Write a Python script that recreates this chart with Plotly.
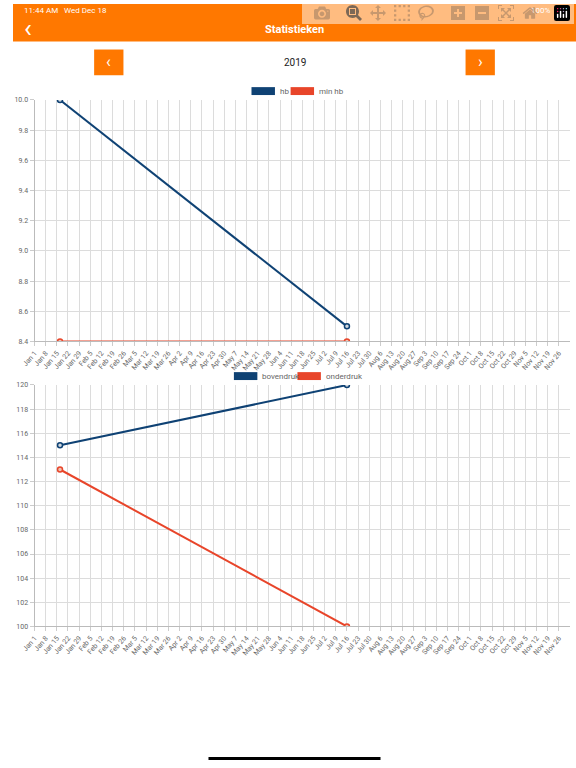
import pandas as pd
import plotly.graph_objects as go

# data
hb_dates = ["2019-01-17", "2019-07-16"]
hb_values = [10.0, 8.5]
min_hb_values = [8.4, 8.4]
bp_dates = ["2019-01-17", "2019-07-16"]
bovendruk = [115, 120]
onderdruk = [113, 100]

ticks = pd.date_range("2019-01-01", "2019-11-26", freq="7D")
tick_text = [d.strftime("%b ") + str(d.day) for d in ticks]

BLUE = "#0f4274"
RED = "#e8452a"
ORANGE = "#ff7800"
W, H = 576, 768


def py(px):
    return 1 - px / H


fig = go.Figure()
fig.add_trace(go.Scatter(x=hb_dates, y=hb_values, mode="lines+markers", line=dict(color=BLUE, width=2),
                         marker=dict(size=5, color="#d0d8e0", line=dict(color=BLUE, width=1.5)),
                         xaxis="x", yaxis="y"))
fig.add_trace(go.Scatter(x=hb_dates, y=min_hb_values, mode="lines+markers", line=dict(color=RED, width=2),
                         marker=dict(size=5, color="#f0c0b0", line=dict(color=RED, width=1.5)),
                         xaxis="x", yaxis="y"))
fig.add_trace(go.Scatter(x=bp_dates, y=bovendruk, mode="lines+markers", line=dict(color=BLUE, width=2),
                         marker=dict(size=5, color="#d0d8e0", line=dict(color=BLUE, width=1.5)),
                         xaxis="x2", yaxis="y2"))
fig.add_trace(go.Scatter(x=bp_dates, y=onderdruk, mode="lines+markers", line=dict(color=RED, width=2),
                         marker=dict(size=5, color="#f0c0b0", line=dict(color=RED, width=1.5)),
                         xaxis="x2", yaxis="y2"))

xcommon = dict(type="date", range=["2019-01-01", "2019-12-03"], tickvals=ticks, ticktext=tick_text,
               tickangle=-50, tickfont=dict(size=7, color="#666"), showgrid=True, gridcolor="#dcdcdc",
               gridwidth=1, showline=True, linecolor="#bbb", ticks="outside", ticklen=4, tickcolor="#ccc")
ycommon = dict(showgrid=True, gridcolor="#dcdcdc", tickfont=dict(size=7, color="#666"), showline=True,
               linecolor="#bbb", ticks="outside", ticklen=4, tickcolor="#ccc", zeroline=False)

fig.update_layout(
    width=W, height=H, margin=dict(l=0, r=0, t=0, b=0), showlegend=False,
    plot_bgcolor="white", paper_bgcolor="white", font=dict(family="Roboto"),
    xaxis=dict(domain=[22 / W, 570 / W], anchor="y", **xcommon),
    yaxis=dict(domain=[py(341), py(97)], range=[8.4, 10.0], dtick=0.2, tickformat=".1f", anchor="x", **ycommon),
    xaxis2=dict(domain=[22 / W, 570 / W], anchor="y2", **xcommon),
    yaxis2=dict(domain=[py(629), py(385)], range=[100, 120], dtick=2, anchor="x2", **ycommon),
)

shapes = [
    dict(type="rect", xref="paper", yref="paper", x0=0, x1=1, y0=py(38), y1=1, fillcolor=ORANGE, line_width=0),
    dict(type="rect", xref="paper", yref="paper", x0=83 / W, x1=113 / W, y0=py(72), y1=py(46), fillcolor=ORANGE, line_width=0),
    dict(type="rect", xref="paper", yref="paper", x0=463 / W, x1=493 / W, y0=py(72), y1=py(46), fillcolor=ORANGE, line_width=0),
    dict(type="rect", xref="paper", yref="paper", x0=200 / W, x1=376 / W, y0=py(764), y1=py(761), fillcolor="black", line_width=0),
    # legend swatches
    dict(type="rect", xref="paper", yref="paper", x0=244 / W, x1=268 / W, y0=py(92), y1=py(84), fillcolor=BLUE, line_width=0),
    dict(type="rect", xref="paper", yref="paper", x0=284 / W, x1=308 / W, y0=py(92), y1=py(84), fillcolor=RED, line_width=0),
    dict(type="rect", xref="paper", yref="paper", x0=226 / W, x1=250 / W, y0=py(380), y1=py(372), fillcolor=BLUE, line_width=0),
    dict(type="rect", xref="paper", yref="paper", x0=291 / W, x1=315 / W, y0=py(380), y1=py(372), fillcolor=RED, line_width=0),
]
fig.update_layout(shapes=shapes)


def ann(text, x, y, size=8, color="#666", xanchor="left", bold=False):
    fig.add_annotation(text=f"<b>{text}</b>" if bold else text, x=x / W, y=py(y), xref="paper", yref="paper",
                       showarrow=False, xanchor=xanchor, yanchor="middle", font=dict(size=size, color=color))


ann("11:44 AM   Wed Dec 18", 9, 7, size=8, color="white")
ann("100%", 551, 7, size=8, color="white", xanchor="right")
ann("Statistieken", W / 2, 26, size=11, color="white", xanchor="center", bold=True)
ann("‹", 9, 24, size=26, color="white")
ann("‹", 98, 58, size=16, color="white", xanchor="center")
ann("›", 478, 58, size=16, color="white", xanchor="center")
ann("2019", W / 2, 59, size=10, color="#222", xanchor="center")
ann("hb", 271, 88)
ann("min hb", 311, 88)
ann("bovendruk", 253, 376)
ann("onderdruk", 318, 376)

# page has default body margin -> remove so the figure fills the window exactly
fig.write_html("out.html", post_script="document.body.style.margin='0';document.body.style.overflow='hidden';")
